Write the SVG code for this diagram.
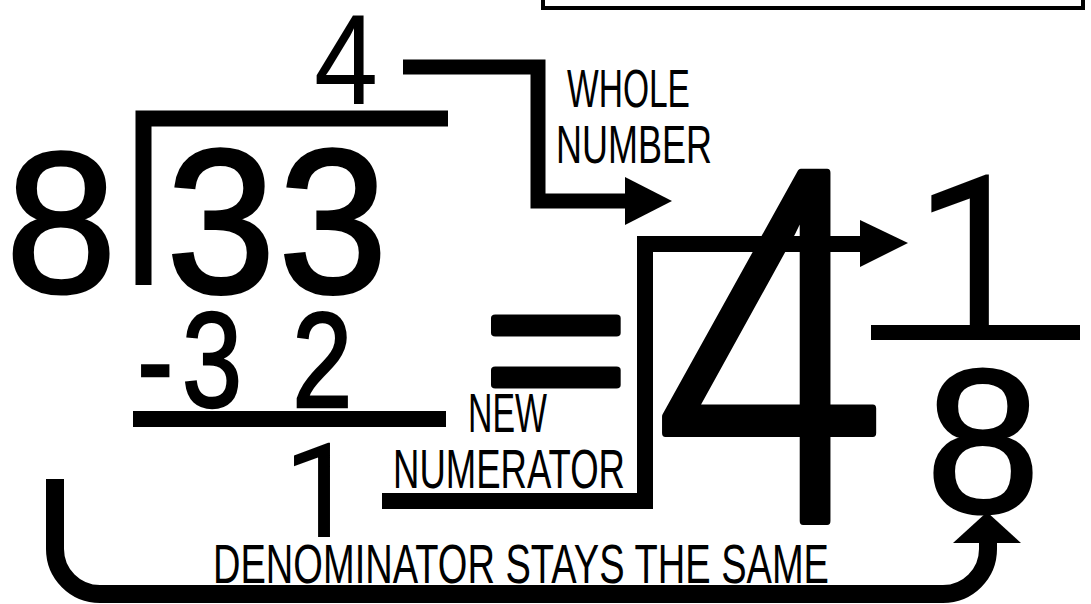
<svg xmlns="http://www.w3.org/2000/svg" width="1091" height="604" viewBox="0 0 1091 604">
  <style>
    .digit { font-family: "Liberation Sans", Arial, sans-serif; fill: #000; text-anchor: middle; }
    .one { font-family: Roboto, "Liberation Sans", sans-serif; fill: #000; text-anchor: middle; }
    .label { font-family: "Liberation Sans", Arial, sans-serif; fill: #000; }
    .bar { fill: #000; }
    .conn { fill: none; stroke: #000; stroke-linejoin: miter; stroke-linecap: butt; }
    .head { fill: #000; }
  </style>
  <rect x="0" y="0" width="1091" height="604" fill="#fff"/>

  <g id="top-box">
    <rect x="543" y="-10" width="540" height="18" fill="none" stroke="#000" stroke-width="4"/>
  </g>

  <g id="quotient">
    <text class="digit" transform="translate(346,104) scale(0.9,1)" font-size="128">4</text>
  </g>

  <g id="division-bracket">
    <path d="M143.5,285 V118.5 H448" fill="none" stroke="#000" stroke-width="16" stroke-linejoin="miter"/>
  </g>

  <g id="divisor">
    <text class="digit" x="61" y="292" font-size="200" stroke="#000" stroke-width="3">8</text>
  </g>

  <g id="dividend">
    <text class="digit" transform="translate(221,292) scale(0.95,1)" font-size="205" stroke="#000" stroke-width="4">3</text>
    <text class="digit" transform="translate(333,292) scale(0.95,1)" font-size="205" stroke="#000" stroke-width="4">3</text>
  </g>

  <g id="subtrahend">
    <text class="digit" transform="scale(0.8,1)" font-size="135" stroke="#000" stroke-width="2.5" y="407"><tspan x="194">-</tspan><tspan x="265">3</tspan><tspan x="335"> </tspan><tspan x="403">2</tspan></text>
    <rect class="bar" x="133" y="411" width="313" height="16"/>
  </g>

  <g id="remainder">
    <text class="one" x="320" y="537" font-size="132">1</text>
  </g>

  <g id="equals">
    <text class="digit" transform="translate(556,420) scale(1.2,1)" font-size="208" stroke="#000" stroke-width="7" stroke-linejoin="round">=</text>
  </g>

  <g id="whole-number">
    <text class="one" transform="translate(766,521) scale(0.84,1)" font-size="490" font-weight="300" stroke="#000" stroke-width="8" stroke-linejoin="round">4</text>
  </g>

  <g id="fraction">
    <text class="one" x="973" y="326" font-size="211">1</text>
    <rect class="bar" x="871" y="325" width="209" height="15"/>
    <text class="digit" x="983" y="512" font-size="205" stroke="#000" stroke-width="3">8</text>
  </g>

  <g id="label-whole-number">
    <text class="label" x="567" y="107" font-size="54" textLength="123" lengthAdjust="spacingAndGlyphs">WHOLE</text>
    <text class="label" x="556" y="163" font-size="53" textLength="156" lengthAdjust="spacingAndGlyphs">NUMBER</text>
  </g>

  <g id="label-new-numerator">
    <text class="label" x="468" y="432" font-size="55" textLength="79" lengthAdjust="spacingAndGlyphs">NEW</text>
    <text class="label" x="393" y="488" font-size="55" textLength="232" lengthAdjust="spacingAndGlyphs">NUMERATOR</text>
  </g>

  <g id="label-denominator">
    <text class="label" x="213" y="583" font-size="55" textLength="616" lengthAdjust="spacingAndGlyphs">DENOMINATOR STAYS THE SAME</text>
  </g>

  <g id="connectors">
    <path class="conn" d="M403,67 H538 V201 H627" stroke-width="15"/>
    <polygon class="head" points="625,177 672,201 625,225"/>
    <path class="conn" d="M382,501 H645 V244 H862" stroke-width="16"/>
    <polygon class="head" points="860,220 908,243 860,267"/>
    <path class="conn" d="M55,479 V549 A45,45 0 0 0 100,594 H943 A45,45 0 0 0 988,549 V540" stroke-width="18"/>
    <polygon class="head" points="953,543 987,512 1021,543"/>
  </g>
</svg>
